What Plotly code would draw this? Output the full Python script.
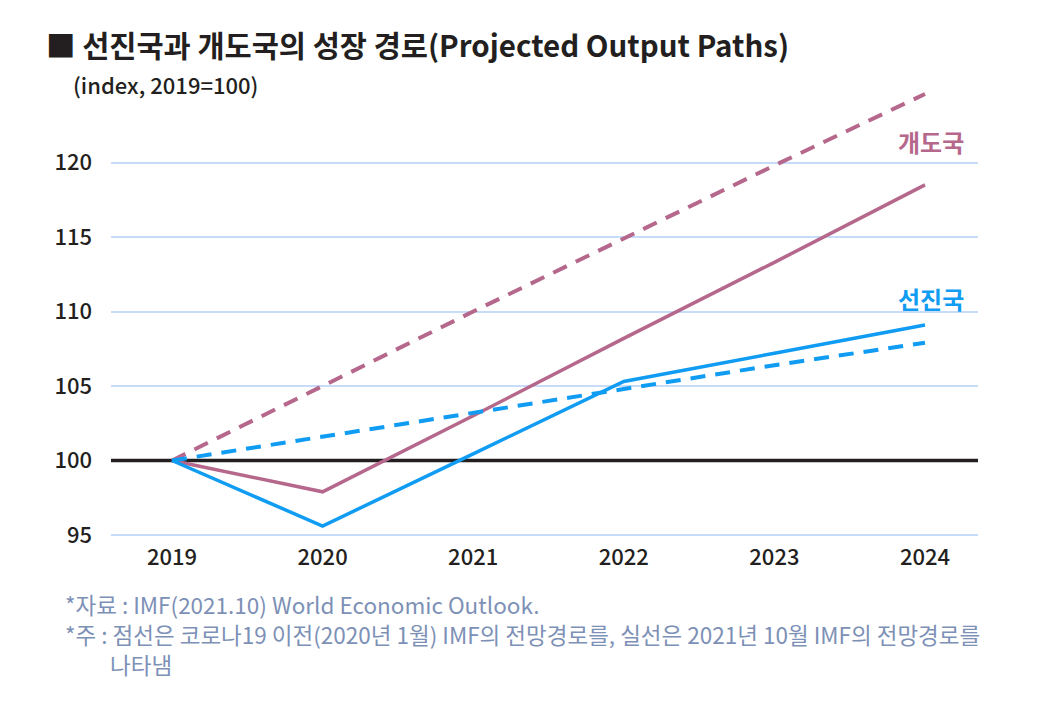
import plotly.graph_objects as go

years = [2019, 2020, 2021, 2022, 2023, 2024]
adv_actual = [100, 95.6, 100.45, 105.3, 107.2, 109.1]
adv_precovid = [100, 101.6, 103.2, 104.8, 106.4, 107.9]
dev_actual = [100, 97.9, 103.0, 108.2, 113.3, 118.5]
dev_precovid = [100, 105.0, 110.0, 114.9, 119.8, 124.6]
baseline = 100
y_ticks = [95, 100, 105, 110, 115, 120]
x_ticks = [str(y) for y in years]

PINK = "#b5688b"
BLUE = "#0f9cf2"
DARK = "#231f20"
NOTE = "#7d90b6"
FONT = "Noto Sans CJK KR"

# page offset of 8px (body margin) -> plot area in figure coords
L, T = 103, 80
PW, PH = 867, 450
R = 1047 - L - PW
B = 721 - T - PH
X_RANGE = [2018.595, 2024.352]

fig = go.Figure()
fig.add_trace(go.Scatter(x=X_RANGE, y=[baseline, baseline], mode="lines",
                         line=dict(color=DARK, width=3.5),
                         hoverinfo="skip", showlegend=False, cliponaxis=False))
fig.add_trace(go.Scatter(x=years, y=dev_precovid, mode="lines",
                         line=dict(color=PINK, width=4, dash="15px,10px"),
                         hoverinfo="skip", showlegend=False))
fig.add_trace(go.Scatter(x=years, y=dev_actual, mode="lines",
                         line=dict(color=PINK, width=3.5),
                         hoverinfo="skip", showlegend=False))
fig.add_trace(go.Scatter(x=years, y=adv_precovid, mode="lines",
                         line=dict(color=BLUE, width=4, dash="15px,10px"),
                         hoverinfo="skip", showlegend=False))
fig.add_trace(go.Scatter(x=years, y=adv_actual, mode="lines",
                         line=dict(color=BLUE, width=3.5),
                         hoverinfo="skip", showlegend=False))

fig.update_xaxes(range=X_RANGE, tickvals=years, ticktext=x_ticks,
                 showgrid=False, zeroline=False, showline=False, ticks="",
                 tickfont=dict(family=FONT, size=22, color=DARK, weight=500),
                 ticklabelstandoff=4)
fig.update_yaxes(range=[94.8, 125], tickvals=y_ticks, showgrid=True,
                 gridcolor="#c6dcf8", gridwidth=1.5, zeroline=False, showline=False,
                 ticks="", tickfont=dict(family=FONT, size=22, color=DARK, weight=500),
                 ticklabelstandoff=18)

fig.add_annotation(xref="paper", yref="y", x=0.986, y=121.4, text="개도국",
                   showarrow=False, xanchor="right", yanchor="middle",
                   font=dict(family=FONT, size=24, color=PINK, weight=700))
fig.add_annotation(xref="paper", yref="y", x=0.986, y=110.9, text="선진국",
                   showarrow=False, xanchor="right", yanchor="middle",
                   font=dict(family=FONT, size=24, color=BLUE, weight=700))

def px_x(px):
    return (px - 8 - L) / PW

def px_y(py):
    return 1 - (py - 8 - T) / PH

# Title / subtitle
fig.add_annotation(xref="paper", yref="paper", x=px_x(44), y=px_y(44),
                   text="■ 선진국과 개도국의 성장 경로(Projected Output Paths)",
                   showarrow=False, xanchor="left", yanchor="middle",
                   font=dict(family=FONT, size=29.5, color=DARK, weight=700))
fig.add_annotation(xref="paper", yref="paper", x=px_x(71), y=px_y(84),
                   text="(index, 2019=100)",
                   showarrow=False, xanchor="left", yanchor="middle",
                   font=dict(family=FONT, size=22, color=DARK, weight=500))

# Footnotes
notes = [
    ("*자료 : IMF(2021.10) World Economic Outlook.", 63, 604),
    ("*주 : 점선은 코로나19 이전(2020년 1월) IMF의 전망경로를, 실선은 2021년 10월 IMF의 전망경로를", 63, 634),
    ("나타냄", 108, 664),
]
for txt, px, py in notes:
    fig.add_annotation(xref="paper", yref="paper", x=px_x(px), y=px_y(py),
                       text=txt, showarrow=False, xanchor="left", yanchor="middle",
                       font=dict(family=FONT, size=22.5, color=NOTE))

fig.update_layout(width=1047, height=721, margin=dict(l=L, r=R, t=T, b=B),
                  plot_bgcolor="white", paper_bgcolor="white")

fig.write_html("out.html")
